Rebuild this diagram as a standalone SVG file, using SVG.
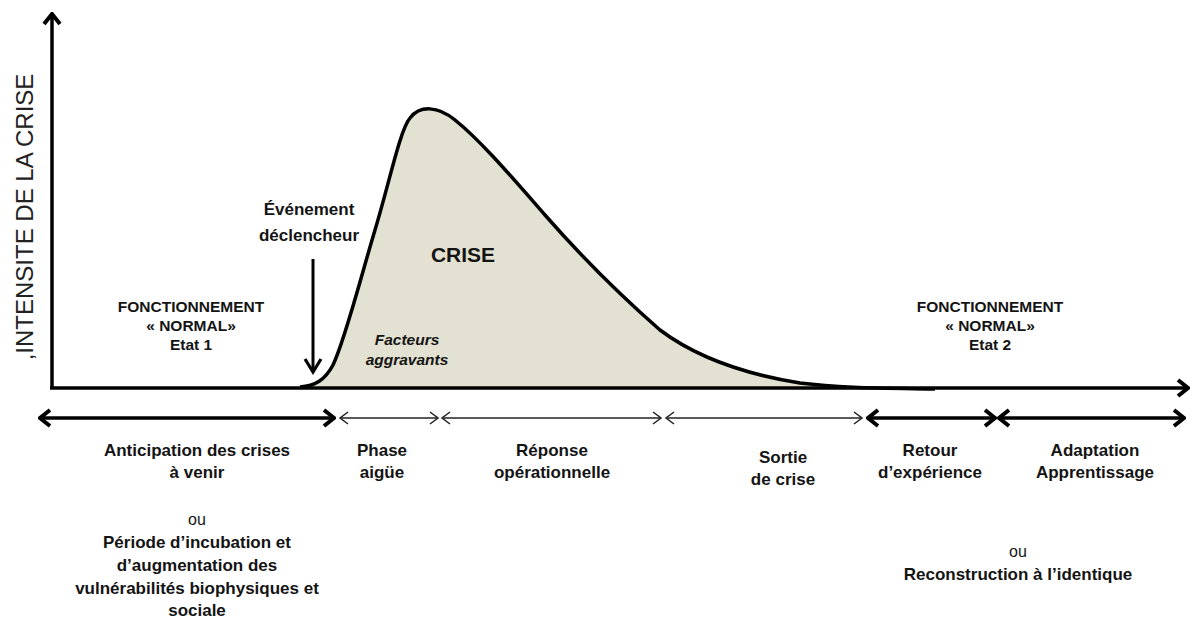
<svg xmlns="http://www.w3.org/2000/svg" width="1192" height="619" viewBox="0 0 1192 619">
<defs>
<style>
text{font-family:"Liberation Sans",Arial,sans-serif;fill:#141414;text-anchor:middle}
.b{font-weight:bold;font-size:17px}
.s{font-weight:bold;font-size:15.5px}
.n{font-size:16px}
.it{font-weight:bold;font-style:italic;font-size:15.5px}
.thick{stroke:#000;stroke-width:3.5;fill:none}
.thin{stroke:#222;stroke-width:1.3;fill:none}
</style>
<marker id="hk" markerUnits="userSpaceOnUse" viewBox="-14 -10 16 20" markerWidth="16" markerHeight="20" refX="0" refY="0" orient="auto-start-reverse">
<path d="M -10 -8 L 0 0 L -10 8" fill="none" stroke="#000" stroke-width="4" stroke-linejoin="miter"/>
</marker>
<marker id="ht" markerUnits="userSpaceOnUse" viewBox="-10 -8 12 16" markerWidth="12" markerHeight="16" refX="0" refY="0" orient="auto-start-reverse">
<path d="M -8 -6 L 0 0 L -8 6" fill="none" stroke="#222" stroke-width="1.5"/>
</marker>
</defs>
<rect width="1192" height="619" fill="#fff"/>
<g id="crisis-curve">
<path d="M 300 388 C 315 386 325 380 333 365 C 345 340 360 280 375 230 C 390 180 400 130 410 118 C 420 105 438 106 455 120 C 480 140 510 175 545 215 C 580 255 620 295 660 330 C 700 360 750 375 800 383 C 840 388 880 388 935 389 L 935 389 L 300 389 Z" fill="#e3e1d1" stroke="none"/>
<path d="M 300 387 C 315 386 325 380 333 365 C 345 340 360 280 375 230 C 390 180 400 130 410 118 C 420 105 438 106 455 120 C 480 140 510 175 545 215 C 580 255 620 295 660 330 C 700 360 750 375 800 383 C 840 388 880 388 935 389" fill="none" stroke="#000" stroke-width="3.5"/>
</g>
<g id="axes">
<path class="thick" d="M 52 388 L 52 14" marker-end="url(#hk)"/>
<path class="thick" d="M 50 388 L 1188 388" marker-end="url(#hk)"/>
<text transform="translate(33,217) rotate(-90)" style="font-size:24px;fill:#222">,INTENSITE DE LA CRISE</text>
</g>
<g id="trigger-event">
<path d="M 313 259 L 313 372" stroke="#000" stroke-width="3" fill="none"/>
<path d="M 305 359 L 313 372 L 321 359" stroke="#000" stroke-width="3.2" fill="none"/>
<text class="b" x="309" y="215">Événement</text>
<text class="b" x="309" y="241">déclencheur</text>
</g>
<g id="crise-label">
<text x="463" y="262" style="font-weight:bold;font-size:21px">CRISE</text>
<text class="it" x="407" y="345">Facteurs</text>
<text class="it" x="407" y="365">aggravants</text>
</g>
<g id="etat1">
<text class="s" x="191" y="312">FONCTIONNEMENT</text>
<text class="s" x="191" y="331">« NORMAL»</text>
<text class="s" x="191" y="350">Etat 1</text>
</g>
<g id="etat2">
<text class="s" x="990" y="312">FONCTIONNEMENT</text>
<text class="s" x="990" y="331">« NORMAL»</text>
<text class="s" x="990" y="350">Etat 2</text>
</g>
<g id="connectors">
<path class="thick" d="M 40 418 L 334 418" marker-start="url(#hk)" marker-end="url(#hk)"/>
<path class="thin" d="M 340 418 L 438 418" marker-start="url(#ht)" marker-end="url(#ht)"/>
<path class="thin" d="M 442 418 L 661 418" marker-start="url(#ht)" marker-end="url(#ht)"/>
<path class="thin" d="M 666 418 L 862 418" marker-start="url(#ht)" marker-end="url(#ht)"/>
<path class="thick" d="M 868 418 L 995 418" marker-start="url(#hk)" marker-end="url(#hk)"/>
<path class="thick" d="M 999 418 L 1184 418" marker-start="url(#hk)" marker-end="url(#hk)"/>
</g>
<g id="anticipation">
<text class="b" x="197" y="456">Anticipation des crises</text>
<text class="b" x="197" y="478">à venir</text>
<text class="n" x="197" y="525">ou</text>
<text class="b" x="197" y="548">Période d’incubation et</text>
<text class="b" x="197" y="571">d’augmentation des</text>
<text class="b" x="197" y="594">vulnérabilités biophysiques et</text>
<text class="b" x="197" y="616">sociale</text>
</g>
<g id="phase-aigue">
<text class="b" x="382" y="456">Phase</text>
<text class="b" x="382" y="478">aigüe</text>
</g>
<g id="reponse">
<text class="b" x="552" y="456">Réponse</text>
<text class="b" x="552" y="478">opérationnelle</text>
</g>
<g id="sortie">
<text class="b" x="783" y="463">Sortie</text>
<text class="b" x="783" y="485">de crise</text>
</g>
<g id="retour">
<text class="b" x="930" y="456">Retour</text>
<text class="b" x="930" y="478">d’expérience</text>
</g>
<g id="adaptation">
<text class="b" x="1095" y="456">Adaptation</text>
<text class="b" x="1095" y="478">Apprentissage</text>
<text class="n" x="1018" y="557">ou</text>
<text class="b" x="1018" y="580">Reconstruction à l’identique</text>
</g>
</svg>
